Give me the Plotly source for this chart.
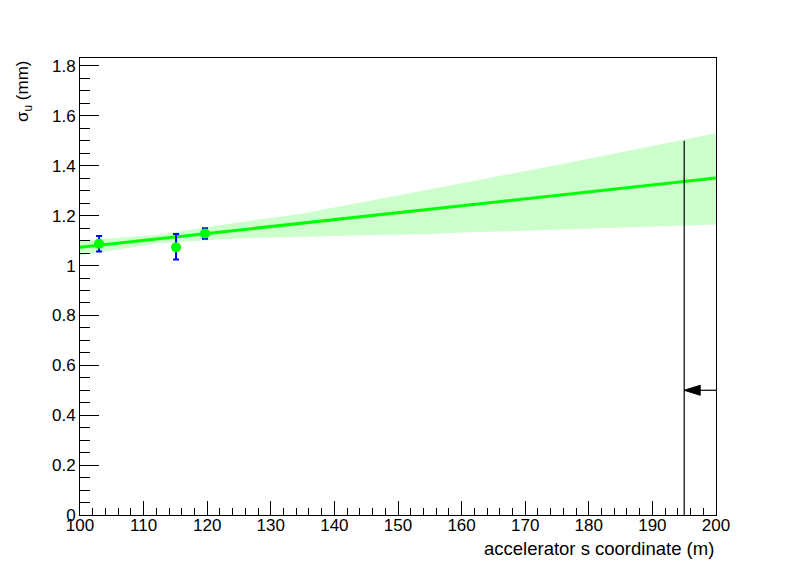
import plotly.graph_objects as go

# ---- data ----
pts_s = [103.0, 115.1, 119.65]
pts_sigma = [1.087, 1.073, 1.1285]
pts_err_up = [0.031, 0.053, 0.0215]
pts_err_dn = [0.031, 0.049, 0.0215]

fit_s = [100.0, 200.0]
fit_sigma = [1.073, 1.351]

band_s = [100, 112, 124, 135, 145, 155, 162, 171, 180, 191, 200]
band_lo = [1.040, 1.088, 1.108, 1.116, 1.121, 1.126, 1.134, 1.140, 1.148, 1.156, 1.165]
band_hi = [1.100, 1.122, 1.170, 1.209, 1.257, 1.305, 1.337, 1.383, 1.428, 1.484, 1.530]

cut_s = 195.0
cut_top = 1.5
arrow_y = 0.5
arrow_from = 200.0

x_range = [100, 200]
y_range = [0, 1.832]

GREEN = "#00ff00"
BAND = "#ccffcc"
FONT = "Liberation Sans, Arial, Helvetica, sans-serif"
FS = 17

fig = go.Figure()

# band
fig.add_trace(go.Scatter(x=band_s, y=band_lo, mode="lines", line=dict(width=0, color=BAND),
                         hoverinfo="skip", showlegend=False))
fig.add_trace(go.Scatter(x=band_s, y=band_hi, mode="lines", line=dict(width=0, color=BAND),
                         fill="tonexty", fillcolor=BAND, hoverinfo="skip", showlegend=False))
# fit line
fig.add_trace(go.Scatter(x=fit_s, y=fit_sigma, mode="lines", line=dict(width=3, color=GREEN),
                         showlegend=False))
# cut line
fig.add_trace(go.Scatter(x=[cut_s, cut_s], y=[0, cut_top], mode="lines",
                         line=dict(width=1.2, color="black"), showlegend=False))
# arrow shaft
fig.add_trace(go.Scatter(x=[arrow_from, cut_s], y=[arrow_y, arrow_y], mode="lines",
                         line=dict(width=1.2, color="black"), showlegend=False))
# data points
fig.add_trace(go.Scatter(x=pts_s, y=pts_sigma, mode="markers",
                         marker=dict(size=10, color=GREEN, line=dict(width=0)),
                         error_y=dict(type="data", symmetric=False, array=pts_err_up,
                                      arrayminus=pts_err_dn, color="#0000ff",
                                      thickness=2, width=3),
                         showlegend=False))

# arrow head as filled triangle, size derived from pixel scale
px_per_s = 636 / (x_range[1] - x_range[0])
px_per_y = 457 / (y_range[1] - y_range[0])
head_len = 16 / px_per_s
head_half = 5 / px_per_y
fig.add_shape(type="path",
              path=f"M {cut_s},{arrow_y} L {cut_s + head_len},{arrow_y + head_half} "
                   f"L {cut_s + head_len},{arrow_y - head_half} Z",
              xref="x", yref="y", fillcolor="black", line=dict(color="black", width=1))

# page has an 8px body margin, so shift the figure margins to compensate
fig.update_layout(
    width=796, height=572,
    margin=dict(l=72, r=88, t=50, b=65, autoexpand=False),
    paper_bgcolor="white", plot_bgcolor="white",
    font=dict(family=FONT, size=FS, color="black"),
    showlegend=False,
)
fig.update_xaxes(range=x_range, showgrid=False, zeroline=False, automargin=False,
                 showline=True, linecolor="black", linewidth=1, mirror=True,
                 ticks="inside", ticklen=14, tickwidth=1, tickcolor="black",
                 dtick=10, tick0=100, ticklabelstandoff=-5,
                 minor=dict(ticks="inside", ticklen=7, dtick=2, tickcolor="black", showgrid=False),
                 tickfont=dict(size=FS, family=FONT))
fig.update_yaxes(range=y_range, showgrid=False, zeroline=False, automargin=False,
                 showline=True, linecolor="black", linewidth=1, mirror=True,
                 ticks="inside", ticklen=19, tickwidth=1, tickcolor="black",
                 dtick=0.2, tick0=0,
                 minor=dict(ticks="inside", ticklen=10, dtick=0.05, tickcolor="black", showgrid=False),
                 tickfont=dict(size=FS, family=FONT))

fig.add_annotation(text="accelerator s coordinate (m)", xref="paper", yref="paper",
                   x=1, y=(515 - 548) / 457, xanchor="right", yanchor="middle",
                   showarrow=False, font=dict(size=18.5, family=FONT))
fig.add_annotation(text="σ<sub>u</sub> (mm)", xref="paper", yref="paper",
                   x=(24 - 80) / 636, y=1.0, xanchor="center", yanchor="top",
                   textangle=-90, showarrow=False, font=dict(size=FS, family=FONT))

fig.write_html("out.html")
